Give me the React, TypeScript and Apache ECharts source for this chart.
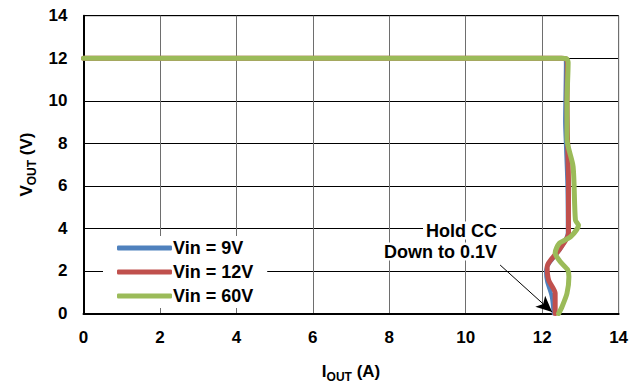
import React, { useEffect, useRef } from "react";
import * as echarts from "echarts";

const seriesNames = ["Vin = 9V", "Vin = 12V", "Vin = 60V"];
const colors = ["#4F81BD", "#C0504D", "#9BBB59"];
const xTicks = [0, 2, 4, 6, 8, 10, 12, 14];
const yTicks = [0, 2, 4, 6, 8, 10, 12, 14];

const vin9: number[][] = [
  [0, 12.0], [12.5, 12.0], [12.6, 11.98], [12.62, 11.7], [12.6, 9.0], [12.62, 8.0],
  [12.66, 6.0], [12.67, 3.8], [12.5, 3.1], [12.2, 2.4], [12.1, 2.0], [12.13, 1.5],
  [12.25, 0.8], [12.3, 0.0],
];
const vin12: number[][] = [
  [0, 12.0], [12.5, 12.0], [12.62, 11.98], [12.66, 11.8], [12.65, 10.0], [12.66, 8.5],
  [12.69, 6.0], [12.69, 3.77], [12.45, 3.0], [12.13, 2.2], [12.17, 1.57], [12.34, 0.95],
  [12.34, 0.0],
];
const vin60: number[][] = [
  [0, 12.0], [12.5, 12.0], [12.64, 11.98], [12.68, 11.8], [12.65, 10.0], [12.65, 8.2],
  [12.81, 6.9], [12.87, 4.4], [12.95, 4.15], [12.74, 3.6], [12.45, 3.3], [12.34, 2.85],
  [12.47, 2.44], [12.67, 2.05], [12.7, 1.73], [12.65, 0.95], [12.52, 0.32], [12.43, 0.0],
];
const seriesData = [vin9, vin12, vin60];
const arrowFrom = [10.9, 2.28];
const arrowTo = [12.26, 0.07];
const annotation = ["Hold CC", "Down to 0.1V"];

const FONT = "Arial, 'Liberation Sans', sans-serif";

export default function App() {
  const ref = useRef<HTMLDivElement>(null);
  useEffect(() => {
    document.body.style.margin = "0";
    const chart = echarts.init(ref.current!, null, { renderer: "svg" });
    const widths = [4, 5, 5];
    const nameRich = {
      i: { fontFamily: FONT, fontWeight: "bold", fontSize: 17, color: "#000", lineHeight: 22 },
      s: { fontFamily: FONT, fontWeight: "bold", fontSize: 12, color: "#000", verticalAlign: "bottom", lineHeight: 22, padding: [9, 0, 0, 0] },
    };
    chart.setOption({
      animation: false,
      backgroundColor: "#fff",
      grid: { left: 83.5, right: 18.4, top: 15.7, bottom: 74.5, show: true, borderColor: "#000", borderWidth: 1, backgroundColor: "transparent" },
      xAxis: {
        type: "value", min: xTicks[0], max: xTicks[xTicks.length - 1], interval: 2,
        axisLine: { show: true, onZero: false, lineStyle: { color: "#000", width: 2 } },
        axisTick: { show: false },
        axisLabel: { color: "#000", fontFamily: FONT, fontWeight: "bold", fontSize: 17, margin: 15 },
        splitLine: { show: true, lineStyle: { color: "#6e6e6e", width: 1 } },
        name: "{i|I}{s|OUT}{i| (A)}",
        nameLocation: "middle",
        nameGap: 47,
        nameTextStyle: { rich: nameRich },
      },
      yAxis: {
        type: "value", min: yTicks[0], max: yTicks[yTicks.length - 1], interval: 2,
        axisLine: { show: true, onZero: false, lineStyle: { color: "#000", width: 2 } },
        axisTick: { show: false },
        axisLabel: { color: "#000", fontFamily: FONT, fontWeight: "bold", fontSize: 17, margin: 16 },
        splitLine: { show: true, lineStyle: { color: "#000", width: 1 } },
        name: "{i|V}{s|OUT}{i| (V)}",
        nameLocation: "middle",
        nameRotate: 90,
        nameGap: 43,
        nameTextStyle: { rich: nameRich },
      },
      legend: {
        orient: "vertical",
        left: 103,
        top: 236,
        backgroundColor: "#fff",
        padding: [3, 14, 3, 14],
        itemGap: 6,
        itemWidth: 55,
        itemHeight: 5,
        icon: "roundRect",
        textStyle: { color: "#000", fontFamily: FONT, fontWeight: "bold", fontSize: 18, padding: [0, 0, 0, -4] },
        data: seriesNames,
      },
      graphic: [
        {
          type: "text",
          x: 500,
          y: 220,
          z: 100,
          style: {
            text: annotation.map((t) => `{a|${t}}`).join("\n"),
            align: "right",
            verticalAlign: "top",
            rich: {
              a: { fontFamily: FONT, fontWeight: "bold", fontSize: 18, fill: "#000", backgroundColor: "#fff", lineHeight: 21, padding: [0, 3, 0, 3] },
            },
          },
        },
      ],
      series: seriesNames.map((name, i) => ({
        name,
        type: "line",
        data: seriesData[i],
        showSymbol: false,
        smooth: 0.25,
        color: colors[i],
        lineStyle: { color: colors[i], width: widths[i], cap: "round", join: "round" },
        z: 2 + i,
        markLine: i === 2 ? {
          silent: true,
          symbol: ["none", "arrow"],
          symbolSize: [11, 16],
          label: { show: false },
          lineStyle: { color: "#000", width: 1, type: "solid" },
          data: [[{ coord: arrowFrom }, { coord: arrowTo }]],
        } : undefined,
      })),
    });
    return () => chart.dispose();
  }, []);
  return <div ref={ref} style={{ width: 637, height: 388 }} />;
}
